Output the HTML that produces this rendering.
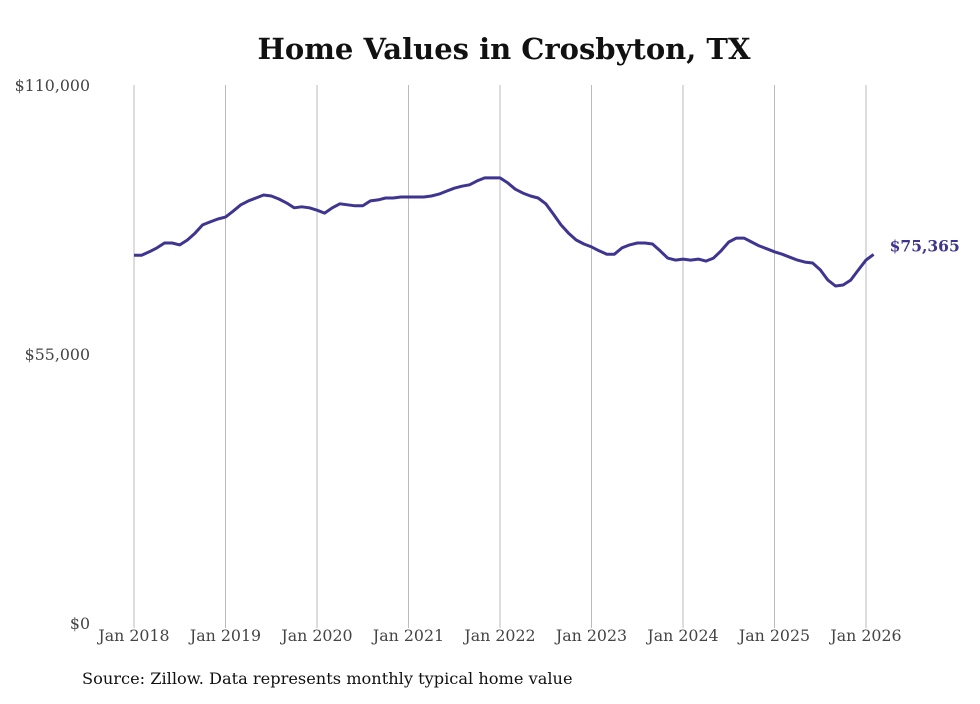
<!DOCTYPE html>
<html><head><meta charset="utf-8"><style>
body{margin:0;background:#fff;}
svg text{font-family:"DejaVu Serif","Liberation Serif",serif;}
</style></head><body>
<svg id="chart" width="980" height="699" xmlns="http://www.w3.org/2000/svg">
<text x="504" y="59" text-anchor="middle" font-size="29" font-weight="bold" fill="#111">Home Values in Crosbyton, TX</text>
<g id="grid"></g>
<g id="yaxis"></g>
<g id="xaxis"></g>
<path id="line" fill="none" stroke="#3e3591" stroke-width="3" stroke-linejoin="round"></path>
<text id="endlabel" font-size="15.5" font-weight="bold" fill="#3e3591"></text>
<text x="82" y="684" font-size="16.2" fill="#111">Source: Zillow. Data represents monthly typical home value</text>
</svg>
<script>
const yTicks=[0,55000,110000];
const yTickLabels=["$0","$55,000","$110,000"];
const xTickYears=[2018,2019,2020,2021,2022,2023,2024,2025,2026];
const xTickLabels=["Jan 2018","Jan 2019","Jan 2020","Jan 2021","Jan 2022","Jan 2023","Jan 2024","Jan 2025","Jan 2026"];
const startYear=2018;
const values=[
75.2,75.2,75.9,76.7,77.7,77.7,77.3,78.3,79.7,81.4,82.0,82.6,
83.0,84.2,85.5,86.3,86.9,87.5,87.3,86.7,85.9,84.9,85.1,84.9,
84.4,83.8,84.9,85.7,85.5,85.3,85.3,86.3,86.5,86.9,86.9,87.1,
87.1,87.1,87.1,87.3,87.7,88.3,88.9,89.3,89.6,90.4,91.0,91.0,
91.0,90.0,88.7,87.9,87.3,86.9,85.7,83.6,81.4,79.7,78.3,77.5,
76.9,76.1,75.4,75.4,76.7,77.3,77.7,77.7,77.5,76.1,74.6,74.2,
74.4,74.2,74.4,74.0,74.6,76.1,77.9,78.7,78.7,77.9,77.1,76.5,
75.9,75.4,74.8,74.2,73.8,73.6,72.2,70.1,68.9,69.1,70.1,72.2,
74.2,75.365];
const endLabel="$75,365";
const NS="http://www.w3.org/2000/svg";
const plotX0=134,plotX1=866,plotTop=85,plotBot=623;
const X=t=>plotX0+(t-startYear)/(2026-2018)*(plotX1-plotX0);
const Y=v=>plotBot-(v/110000)*(plotBot-plotTop);
function mk(tag,attrs,parent,txt){const e=document.createElementNS(NS,tag);for(const k in attrs)e.setAttribute(k,attrs[k]);if(txt!==undefined)e.textContent=txt;parent.appendChild(e);return e;}
const grid=document.getElementById('grid'),xa=document.getElementById('xaxis'),ya=document.getElementById('yaxis');
xTickYears.forEach((yr,i)=>{
 const l=mk('line',{x1:X(yr),x2:X(yr),y1:plotTop,y2:plotBot+5,stroke:'#bbb','stroke-width':1},grid);
 
 
 const t=mk('text',{x:X(yr),y:641,'text-anchor':'middle','font-size':15.8,fill:'#444'},xa,xTickLabels[i]);
 
 
});
yTicks.forEach((v,i)=>{
 const t=mk('text',{x:90,y:Y(v)+6,'text-anchor':'end','font-size':15.8,fill:'#444'},ya,yTickLabels[i]);
 
 
});
let d='';
values.forEach((v,i)=>{d+=(i?'L':'M')+X(startYear+i/12).toFixed(1)+','+Y(v*1000).toFixed(1);});
document.getElementById('line').setAttribute('d',d);
const last=values.length-1;
const el=document.getElementById('endlabel');
el.setAttribute('x',X(startYear+last/12)+16);
el.setAttribute('y',Y(values[last]*1000)-3);
el.textContent=endLabel;
</script>
</body></html>
